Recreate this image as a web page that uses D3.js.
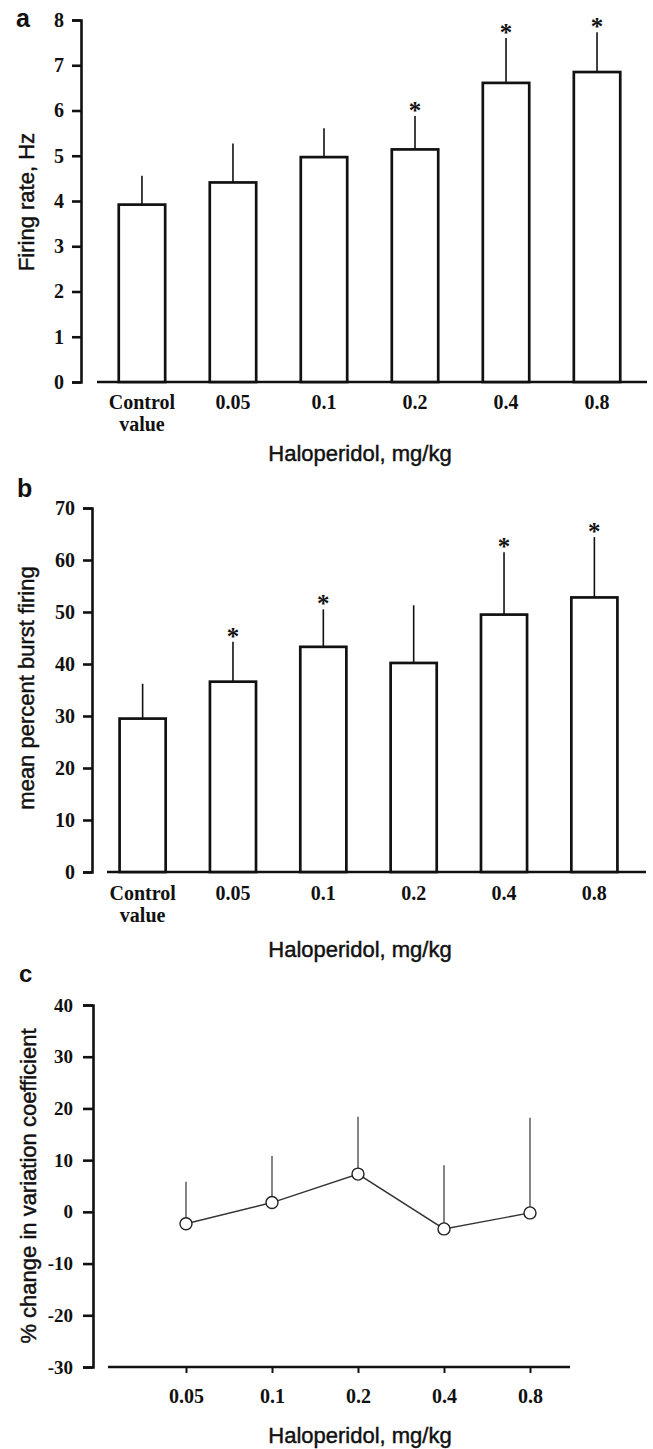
<!DOCTYPE html>
<html>
<head>
<meta charset="utf-8">
<script src="https://cdn.jsdelivr.net/npm/d3@7"></script>
<style>
  body { margin: 0; background: #fff; }
  svg { display: block; }
  .serif { font-family: "Liberation Serif", "Times New Roman", serif; font-weight: bold; }
  .sans { font-family: "Liberation Sans", Arial, sans-serif; }
  .title { stroke: #111; stroke-width: 0.45; }
</style>
</head>
<body>
<div id="chart"></div>
<script>
// Doses shared by panels a and b
const barDoses = ['Control value', '0.05', '0.1', '0.2', '0.4', '0.8'];

// Panel a: firing rate (Hz), mean and SEM
const firingRate = [3.92, 4.41, 4.97, 5.14, 6.61, 6.85];
const firingRateErr = [0.64, 0.86, 0.64, 0.74, 0.99, 0.88];
const firingRateSig = [false, false, false, true, true, true];
const firingTicks = [0, 1, 2, 3, 4, 5, 6, 7, 8];

// Panel b: mean percent burst firing
const burst = [29.5, 36.6, 43.3, 40.2, 49.5, 52.8];
const burstErr = [6.7, 7.7, 7.2, 11.1, 12.0, 11.6];
const burstSig = [false, true, true, false, true, true];
const burstTicks = [0, 10, 20, 30, 40, 50, 60, 70];

// Panel c: % change in variation coefficient
const cvDoses = ['0.05', '0.1', '0.2', '0.4', '0.8'];
const cvChange = [-2.3, 1.8, 7.3, -3.3, -0.2];
const cvErr = [8.1, 9.0, 11.1, 12.3, 18.4];
const cvTicks = [-30, -20, -10, 0, 10, 20, 30, 40];

const W = 653, H = 1449;

const svg = d3.select('#chart')
  .append('svg')
  .attr('width', W)
  .attr('height', H)
  .attr('viewBox', `0 0 ${W} ${H}`);

svg.append('rect').attr('width', W).attr('height', H).attr('fill', '#fff');

function styleAxis(g, size) {
  g.attr('font-size', size).attr('font-family', null).classed('serif', true);
  g.selectAll('path, line').attr('stroke', '#111').attr('stroke-width', 2.6);
  g.selectAll('text').attr('fill', '#111');
}

/**
 * Bar panel with error bars and significance stars (panels a and b).
 */
function drawBarPanel(o) {
  const g = svg.append('g');

  const x = d3.scaleBand()
    .domain(barDoses)
    .range(o.xRange)
    .paddingInner(0.49)
    .paddingOuter(0.25);

  const y = d3.scaleLinear()
    .domain([0, d3.max(o.ticks)])
    .range(o.yRange);

  // y axis
  g.append('g')
    .attr('transform', `translate(${o.axisX},0)`)
    .call(d3.axisLeft(y).tickValues(o.ticks).tickFormat(d => String(d))
      .tickSize(9).tickSizeOuter(9).tickPadding(8))
    .call(ax => styleAxis(ax, 20));

  // baseline (offset from the y axis)
  g.append('line')
    .attr('x1', o.baseline[0]).attr('x2', o.baseline[1])
    .attr('y1', y(0)).attr('y2', y(0))
    .attr('stroke', '#111').attr('stroke-width', 2.6);

  const cx = d => x(d) + x.bandwidth() / 2;

  // error bars
  g.selectAll('.err')
    .data(barDoses)
    .join('line')
    .attr('class', 'err')
    .attr('x1', cx).attr('x2', cx)
    .attr('y1', (d, i) => y(o.values[i]))
    .attr('y2', (d, i) => y(o.values[i] + o.errors[i]))
    .attr('stroke', '#111').attr('stroke-width', 1.6);

  // bars
  g.selectAll('.bar')
    .data(barDoses)
    .join('rect')
    .attr('class', 'bar')
    .attr('x', d => x(d))
    .attr('y', (d, i) => y(o.values[i]))
    .attr('width', x.bandwidth())
    .attr('height', (d, i) => y(0) - y(o.values[i]))
    .attr('fill', '#fff')
    .attr('stroke', '#111')
    .attr('stroke-width', 2.7);

  // significance stars
  g.selectAll('.star')
    .data(barDoses.filter((d, i) => o.sig[i]))
    .join('text')
    .attr('class', 'star serif')
    .attr('x', cx)
    .attr('y', d => {
      const i = barDoses.indexOf(d);
      return y(o.values[i] + o.errors[i]) + 3;
    })
    .attr('text-anchor', 'middle')
    .attr('font-size', 25)
    .attr('fill', '#111')
    .text('*');

  // x tick labels
  const lab = g.selectAll('.xlab')
    .data(barDoses)
    .join('text')
    .attr('class', 'xlab serif')
    .attr('x', cx)
    .attr('y', o.labelY)
    .attr('text-anchor', 'middle')
    .attr('font-size', 20)
    .attr('fill', '#111');
  lab.each(function (d) {
    const parts = d.split(' ');
    d3.select(this).selectAll('tspan')
      .data(parts)
      .join('tspan')
      .attr('x', cx(d))
      .attr('dy', (p, j) => j === 0 ? 0 : 22)
      .text(p => p);
  });

  // titles
  g.append('text')
    .attr('class', 'sans title')
    .attr('x', 360).attr('y', o.titleY)
    .attr('text-anchor', 'middle')
    .attr('font-size', 22)
    .attr('fill', '#111')
    .text('Haloperidol, mg/kg');

  g.append('text')
    .attr('class', 'sans title')
    .attr('transform', `translate(${o.yTitleX},${o.yTitleY}) rotate(-90)`)
    .attr('text-anchor', 'middle')
    .attr('font-size', 22)
    .attr('fill', '#111')
    .text(o.yTitle);

  g.append('text')
    .attr('class', 'sans')
    .attr('x', o.letterPos[0]).attr('y', o.letterPos[1])
    .attr('font-size', 25)
    .attr('font-weight', 'bold')
    .attr('fill', '#111')
    .text(o.letter);
}

drawBarPanel({
  values: firingRate, errors: firingRateErr, sig: firingRateSig, ticks: firingTicks,
  xRange: [96, 643], yRange: [382, 20], axisX: 81, baseline: [97, 647],
  labelY: 409, titleY: 461,
  yTitle: 'Firing rate, Hz', yTitleX: 34, yTitleY: 202,
  letter: 'a', letterPos: [16, 27]
});

drawBarPanel({
  values: burst, errors: burstErr, sig: burstSig, ticks: burstTicks,
  xRange: [97, 640], yRange: [872, 508], axisX: 92, baseline: [107, 646],
  labelY: 900, titleY: 957,
  yTitle: 'mean percent burst firing', yTitleX: 34, yTitleY: 688,
  letter: 'b', letterPos: [17, 497]
});

// Panel c: line with open circles
(function drawLinePanel() {
  const g = svg.append('g');

  const x = d3.scalePoint()
    .domain(cvDoses)
    .range([186, 530]);

  const y = d3.scaleLinear()
    .domain([d3.min(cvTicks), d3.max(cvTicks)])
    .range([1367, 1005]);

  g.append('g')
    .attr('transform', 'translate(93,0)')
    .call(d3.axisLeft(y).tickValues(cvTicks).tickFormat(d => String(d))
      .tickSize(10).tickSizeOuter(10).tickPadding(10))
    .call(ax => styleAxis(ax, 19));

  const xAxis = g.append('g')
    .attr('transform', `translate(0,${y(-30)})`)
    .call(d3.axisBottom(x).tickSize(6).tickPadding(16))
    .call(ax => styleAxis(ax, 20));
  xAxis.select('.domain').remove();
  xAxis.selectAll('line').attr('stroke-width', 2);

  g.append('line')
    .attr('x1', 108).attr('x2', 570)
    .attr('y1', y(-30)).attr('y2', y(-30))
    .attr('stroke', '#111').attr('stroke-width', 2.6);

  // error bars (upper only)
  g.selectAll('.err')
    .data(cvDoses)
    .join('line')
    .attr('class', 'err')
    .attr('x1', d => x(d)).attr('x2', d => x(d))
    .attr('y1', (d, i) => y(cvChange[i]))
    .attr('y2', (d, i) => y(cvChange[i] + cvErr[i]))
    .attr('stroke', '#333').attr('stroke-width', 1.2);

  g.append('path')
    .datum(cvChange)
    .attr('d', d3.line().x((d, i) => x(cvDoses[i])).y(d => y(d)))
    .attr('fill', 'none')
    .attr('stroke', '#333')
    .attr('stroke-width', 1.4);

  g.selectAll('.pt')
    .data(cvChange)
    .join('circle')
    .attr('class', 'pt')
    .attr('cx', (d, i) => x(cvDoses[i]))
    .attr('cy', d => y(d))
    .attr('r', 6)
    .attr('fill', '#fff')
    .attr('stroke', '#222')
    .attr('stroke-width', 1.4);

  g.append('text')
    .attr('class', 'sans title')
    .attr('x', 360).attr('y', 1443)
    .attr('text-anchor', 'middle')
    .attr('font-size', 22)
    .attr('fill', '#111')
    .text('Haloperidol, mg/kg');

  g.append('text')
    .attr('class', 'sans title')
    .attr('transform', 'translate(36,1186) rotate(-90)')
    .attr('text-anchor', 'middle')
    .attr('font-size', 22)
    .attr('fill', '#111')
    .text('% change in variation coefficient');

  g.append('text')
    .attr('class', 'sans')
    .attr('x', 19).attr('y', 982)
    .attr('font-size', 24)
    .attr('font-weight', 'bold')
    .attr('fill', '#111')
    .text('c');
})();
</script>
</body>
</html>
